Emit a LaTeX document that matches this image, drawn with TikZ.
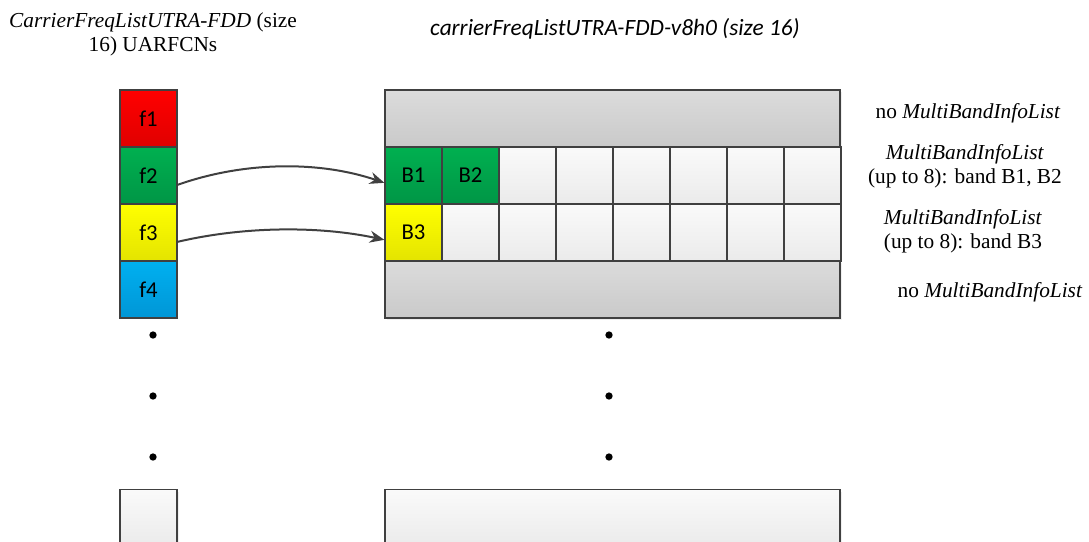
\documentclass[tikz,border=0pt]{standalone}
\usepackage{fontspec}
\setmainfont{Liberation Serif}
\newfontfamily\calibrifont{Carlito}
\usepackage{tikz}
\usetikzlibrary{shadows,calc,arrows.meta}

\definecolor{outline}{HTML}{404040}

\begin{document}
\begin{tikzpicture}[x=0.75pt,y=-0.75pt,thick]
    % `freq' is used for the UARFCN cells on the left.
    % `band' is used for the cells of the multi band lists.
    % `nolist' is used for the grey rows without a list.
    \tikzstyle{cell} = [draw=outline,line width=0.9pt,minimum width=42.75pt,minimum height=42.75pt,
                        inner sep=0pt,font=\calibrifont\fontsize{17}{20}\selectfont]
    \tikzstyle{freq} = [cell]
    \tikzstyle{band} = [cell,top color=white!98!black,bottom color=white!92!black]
    \tikzstyle{nolist} = [cell,minimum width=341.25pt,top color=white!86!black,bottom color=white!79!black,
                          drop shadow={shadow xshift=1.5pt,shadow yshift=-1.5pt,fill=black!12}]
    \tikzstyle{emptybox} = [band,drop shadow={shadow xshift=1.5pt,shadow yshift=-1.5pt,fill=black!12}]
    \tikzstyle{label} = [align=center,font=\fontsize{16}{18}\selectfont]
    \tikzstyle{link} = [draw=outline,line width=1.5pt,-{Stealth[length=11pt,width=9pt]}]
    \tikzstyle{dot} = [fill,shape=circle,minimum size=5.5pt,inner sep=0pt]
    %
    \useasboundingbox (0,0) rectangle (1089,542);
    %
    % Titles.
    \node[label] (leftlabel) at (153,34) {\textit{CarrierFreqListUTRA-FDD} (size\\16) UARFCNs};
    \node[font=\calibrifont\itshape\fontsize{17.5}{20}\selectfont] (rightlabel) at (615,29)
         {carrierFreqListUTRA-FDD-v8h0 (size 16)};
    %
    % UARFCN column.
    \node[freq,top color={rgb,255:red,255;green,0;blue,0},bottom color={rgb,255:red,224;green,0;blue,0}]
         (f1) at (148.5,118.5) {f1};
    \node[freq,top color={rgb,255:red,0;green,176;blue,80},bottom color={rgb,255:red,0;green,150;blue,70}]
         (f2) at (148.5,175.5) {f2};
    \node[freq,top color={rgb,255:red,255;green,255;blue,0},bottom color={rgb,255:red,228;green,228;blue,0}]
         (f3) at (148.5,232.5) {f3};
    \node[freq,top color={rgb,255:red,0;green,176;blue,240},bottom color={rgb,255:red,0;green,150;blue,214}]
         (f4) at (148.5,289.5) {f4};
    \node[emptybox] (flast) at (148.5,518) {};
    %
    % Multi band lists.
    \node[nolist] (row1) at (612.5,118.5) {};
    \node[band,top color={rgb,255:red,0;green,176;blue,80},bottom color={rgb,255:red,0;green,150;blue,70}]
         (b1) at (413.5,175.5) {B1};
    \node[band,top color={rgb,255:red,0;green,176;blue,80},bottom color={rgb,255:red,0;green,150;blue,70}]
         (b2) at (470.5,175.5) {B2};
    \foreach \i in {2,...,7}
        \node[band] (e\i) at (413.5+57*\i,175.5) {};
    \node[band,top color={rgb,255:red,255;green,255;blue,0},bottom color={rgb,255:red,228;green,228;blue,0}]
         (b3) at (413.5,232.5) {B3};
    \foreach \i in {1,...,7}
        \node[band] (c\i) at (413.5+57*\i,232.5) {};
    \node[nolist] (row4) at (612.5,289.5) {};
    \node[emptybox,minimum width=341.25pt] (rowlast) at (612.5,518) {};
    %
    % Dots.
    \foreach \y [count=\k] in {335,396,457} {
        \node[dot] (ldot\k) at (153,\y) {};
        \node[dot] (rdot\k) at (609,\y) {};
    }
    %
    % Notes on the right.
    \node[label] (note1) at (968,113) {no \textit{MultiBandInfoList}};
    \node[label] (note2) at (965,166) {\textit{MultiBandInfoList}\\(up to 8): band B1, B2};
    \node[label] (note3) at (963,231) {\textit{MultiBandInfoList}\\(up to 8): band B3};
    \node[label] (note4) at (990,292) {no \textit{MultiBandInfoList}};
    %
    % Links.
    \draw[link] ([yshift=-7pt]f2.east) .. controls (245,161) and (320,161) .. ([yshift=-5.5pt]b1.west);
    \draw[link] ([yshift=-7pt]f3.east) .. controls (245,226) and (320,226) .. ([yshift=-5.5pt]b3.west);
\end{tikzpicture}
\end{document}
